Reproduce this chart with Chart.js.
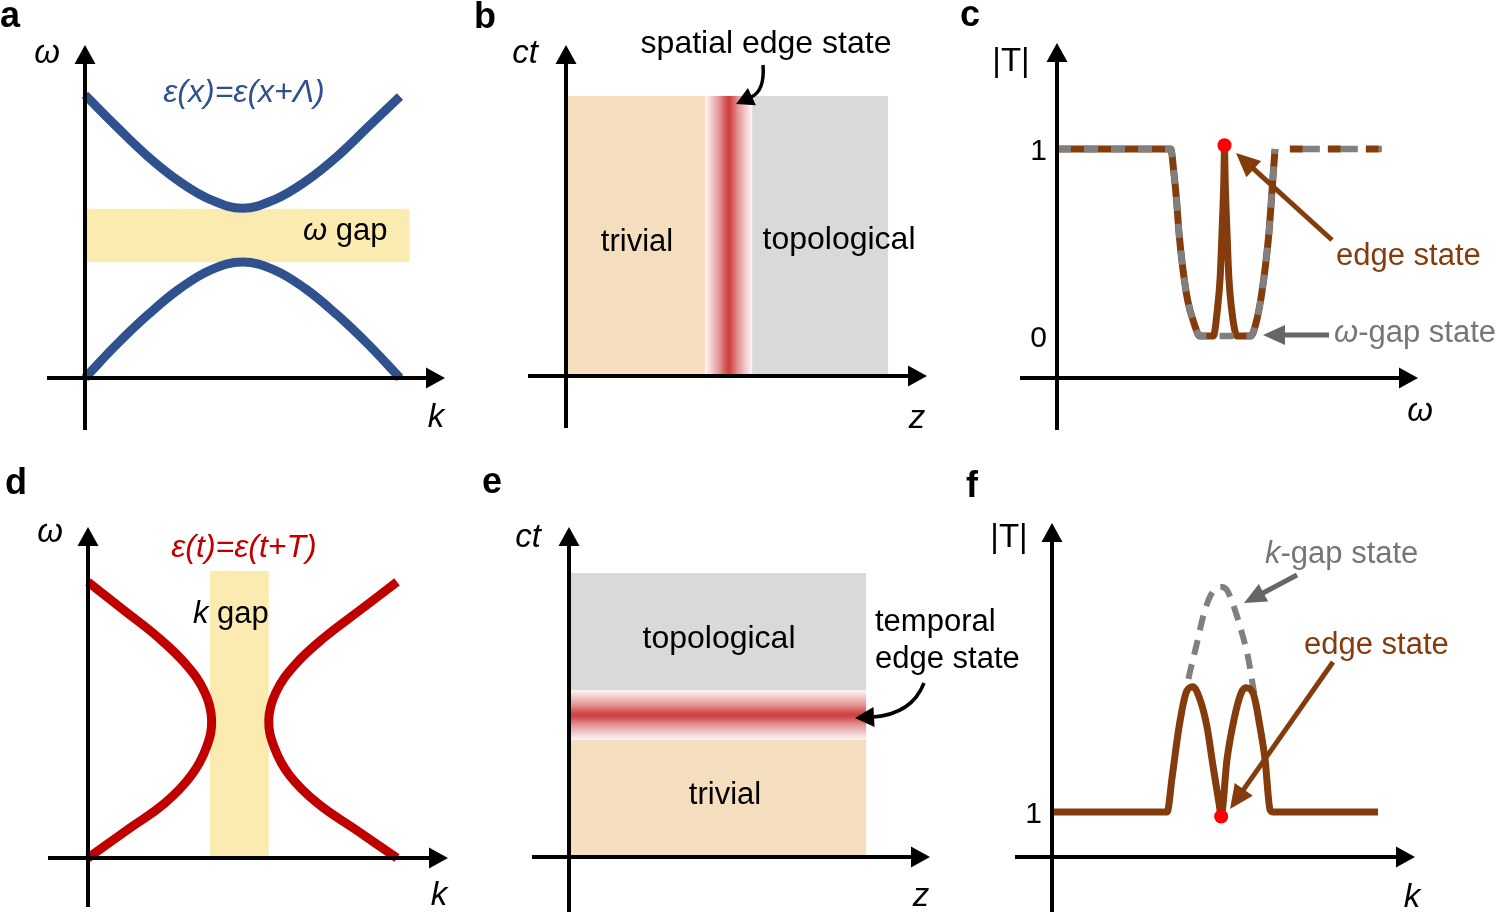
<!DOCTYPE html>
<html>
<head>
<meta charset="utf-8">
<title>Spatial and temporal photonic crystals</title>
<script src="https://cdn.jsdelivr.net/npm/chart.js@4.4.1/dist/chart.umd.min.js"></script>
<style>
  body { margin: 0; background: #fff; }
  #fig { position: relative; width: 1498px; height: 912px; overflow: hidden; }
  #fig canvas { position: absolute; left: 0; top: 0; }
</style>
</head>
<body>
<div id="fig">
  <canvas id="panelA" width="1498" height="912"></canvas>
  <canvas id="panelB" width="1498" height="912"></canvas>
  <canvas id="panelC" width="1498" height="912"></canvas>
  <canvas id="panelD" width="1498" height="912"></canvas>
  <canvas id="panelE" width="1498" height="912"></canvas>
  <canvas id="panelF" width="1498" height="912"></canvas>
</div>
<script>
// ---- values ----

// a: spatial photonic crystal, bands omega(k)
const aK = [0, 0.1, 0.2, 0.3, 0.4, 0.5, 0.6, 0.7, 0.8, 0.9, 1.0];
const aUpper = [0.85, 0.755, 0.665, 0.59, 0.535, 0.51, 0.535, 0.59, 0.665, 0.755, 0.845];
const aLower = [0, 0.10, 0.19, 0.268, 0.325, 0.348, 0.325, 0.268, 0.19, 0.10, 0];
const aGapOmega = [0.348, 0.508];
const aGapK = [0, 1.03];

// d: temporal photonic crystal, bands k(omega)
const dOmega = [1.0, 0.9, 0.8, 0.7, 0.6, 0.5, 0.4, 0.3, 0.2, 0.1, 0];
const dLeftK = [0, 0.113, 0.226, 0.318, 0.378, 0.4, 0.383, 0.335, 0.25, 0.125, 0];
const dRightK = [1.0, 0.883, 0.766, 0.670, 0.608, 0.585, 0.603, 0.652, 0.741, 0.870, 1.0];
const dGapK = [0.395, 0.585];
const dGapOmega = [0, 1.04];

// b: zones along z (trivial | edge | topological), ct extent
const bZoneZ = [0, 0.432, 0.578, 1.0];
const bCt = [0, 1.0];

// e: zones along ct (trivial | edge | topological), z extent
const eZoneCt = [0, 0.412, 0.588, 1.0];
const eZ = [0, 1.0];

// c: |T| vs omega
const cOmega = [0, 3.15, 3.24, 3.31, 3.38, 3.48, 3.62, 3.81, 3.95, 4.33, 4.45, 4.52, 4.57, 4.62, 4.64,
                4.66, 4.71, 4.76, 4.83, 4.95, 4.99, 5.37, 5.5, 5.64, 5.77, 5.87, 5.94, 5.99, 6.04];
const cEdgeT = [1, 1, 0.87, 0.73, 0.55, 0.37, 0.19, 0.06, 0, 0, 0.155, 0.315, 0.55, 0.82, 1.0,
                0.82, 0.55, 0.315, 0.155, 0.01, 0, 0, 0.06, 0.19, 0.37, 0.55, 0.73, 0.87, 1.0];
const cGapOmega = [0, 3.15, 3.24, 3.31, 3.38, 3.48, 3.62, 3.81, 3.95, 5.37, 5.5, 5.64, 5.77, 5.87, 5.94, 5.99, 6.04];
const cGapT = [1, 1, 0.87, 0.73, 0.55, 0.37, 0.19, 0.06, 0, 0, 0.06, 0.19, 0.37, 0.55, 0.73, 0.87, 1.0];
const cTailOmega = [6.45, 9.0];
const cTailT = [1, 1];
const cPeak = [4.64, 1.02];
const cTicks = [0, 1];

// f: |T| vs k
const fK = [0, 3.17, 3.31, 3.50, 3.69, 3.88, 4.08, 4.27, 4.44, 4.60, 4.66,
            4.82, 5.01, 5.21, 5.34, 5.54, 5.73, 5.87, 6.01, 6.09, 8.98];
const fEdgeT = [1, 1, 1.78, 2.89, 3.64, 3.78, 3.49, 2.89, 2.0, 1.2, 0.93,
                2.16, 3.04, 3.64, 3.76, 3.64, 2.89, 2.16, 1.04, 1.0, 1.0];
const fGapK = [0, 3.17, 3.31, 3.50, 3.69, 3.77, 3.97, 4.16, 4.35, 4.55, 4.68,
               4.82, 5.01, 5.21, 5.40, 5.54, 5.73, 5.87, 6.01, 6.09, 8.98];
const fGapT = [1, 1, 1.78, 2.89, 3.64, 4.0, 4.67, 5.33, 5.78, 5.98, 6.0,
               5.93, 5.56, 5.04, 4.44, 3.78, 2.89, 2.16, 1.04, 1.0, 1.0];
const fDip = [4.66, 0.9];
const fTicks = [1];

// ---- styling ----
const FONT = '"Liberation Sans", Arial, Helvetica, sans-serif';
const BLUE = '#2F528F', RED = '#C00000', BROWN = '#843C0C', GREY = '#808080';
const GREYTXT = '#767676', GREYARR = '#666666';
const BEIGE = '#F5DEBD', STONE = '#D9D9D9', SAND = '#FBEBB0';
const glowStops = [[0, '#FDF5F5'], [0.12, '#F3D2D2'], [0.3, '#E39595'], [0.44, '#D45252'],
                   [0.5, '#CF3E3E'], [0.56, '#D45252'], [0.7, '#E39595'], [0.88, '#F3D2D2'], [1, '#FDF5F5']];

const zip = (xs, ys) => xs.map((x, i) => ({ x: x, y: ys[i] }));

function line(xs, ys, color, width, extra) {
  return Object.assign({
    data: zip(xs, ys), showLine: true, borderColor: color, borderWidth: width,
    pointRadius: 0, fill: false, clip: false, tension: 0.4
  }, extra || {});
}

function dot(p, color) {
  return { data: [{ x: p[0], y: p[1] }], pointRadius: 7, pointBackgroundColor: color,
           pointBorderWidth: 0, showLine: false, clip: false, order: 0 };
}

// overlays per canvas: zones, axes, labels, arrows
const overlays = {};

function head(ctx, tx, ty, dx, dy, len, w, color) {
  const L = Math.hypot(dx, dy), ux = dx / L, uy = dy / L;
  const bx = tx - ux * len, by = ty - uy * len;
  ctx.fillStyle = color;
  ctx.beginPath();
  ctx.moveTo(tx, ty);
  ctx.lineTo(bx - uy * w / 2, by + ux * w / 2);
  ctx.lineTo(bx + uy * w / 2, by - ux * w / 2);
  ctx.closePath();
  ctx.fill();
  return [bx + ux, by + uy];
}

function drawText(ctx, t) {
  const size = t.size || 31;
  const segs = t.segs || [{ s: t.s, italic: t.italic }];
  const fontOf = sg => (sg.italic ? 'italic ' : '') + (t.bold ? 'bold ' : '') + size + 'px ' + FONT;
  let total = 0;
  segs.forEach(sg => { ctx.font = fontOf(sg); sg.w = ctx.measureText(sg.s).width; total += sg.w; });
  let x = t.align === 'center' ? t.x - total / 2 : t.align === 'right' ? t.x - total : t.x;
  ctx.textBaseline = 'alphabetic';
  ctx.textAlign = 'left';
  ctx.fillStyle = t.color || '#000';
  segs.forEach(sg => { ctx.font = fontOf(sg); ctx.fillText(sg.s, x, t.y); x += sg.w; });
}

const overlayPlugin = {
  id: 'overlay',
  beforeDatasetsDraw(chart) {
    const o = overlays[chart.canvas.id];
    if (!o || !o.zones) return;
    const ctx = chart.ctx, xs = chart.scales.x, ys = chart.scales.y;
    ctx.save();
    o.zones.forEach(z => {
      const x0 = xs.getPixelForValue(z.x[0]), x1 = xs.getPixelForValue(z.x[1]);
      const y0 = ys.getPixelForValue(z.y[0]), y1 = ys.getPixelForValue(z.y[1]);
      let fill = z.fill;
      if (z.glow) {
        const g = z.glow === 'h' ? ctx.createLinearGradient(x0, 0, x1, 0) : ctx.createLinearGradient(0, y1, 0, y0);
        glowStops.forEach(s => g.addColorStop(s[0], s[1]));
        fill = g;
      }
      ctx.fillStyle = fill;
      ctx.fillRect(Math.min(x0, x1), Math.min(y0, y1), Math.abs(x1 - x0), Math.abs(y1 - y0));
    });
    ctx.restore();
  },
  afterDraw(chart) {
    const o = overlays[chart.canvas.id];
    if (!o) return;
    const ctx = chart.ctx, a = chart.chartArea, ys = chart.scales.y;
    ctx.save();
    // axes with arrow heads
    ctx.strokeStyle = '#000';
    ctx.lineWidth = 4;
    ctx.lineCap = 'butt';
    ctx.beginPath();
    ctx.moveTo(a.left, a.bottom + o.tail[1]);
    ctx.lineTo(a.left, a.top + 16);
    ctx.moveTo(a.left - o.tail[0], a.bottom);
    ctx.lineTo(a.right - 16, a.bottom);
    ctx.stroke();
    head(ctx, a.left, a.top, 0, -1, 19, 21, '#000');
    head(ctx, a.right, a.bottom, 1, 0, 19, 21, '#000');
    // tick labels
    (o.ticks || []).forEach(v => {
      drawText(ctx, { s: String(v), x: a.left - 10, y: ys.getPixelForValue(v) + 11, align: 'right', size: 30 });
    });
    // arrows
    (o.arrows || []).forEach(ar => {
      ctx.strokeStyle = ar.color;
      ctx.lineWidth = ar.lw;
      if (ar.ctrl) {
        ctx.beginPath();
        ctx.moveTo(ar.from[0], ar.from[1]);
        ctx.quadraticCurveTo(ar.ctrl[0], ar.ctrl[1], ar.end[0], ar.end[1]);
        ctx.stroke();
        const dx = ar.tip[0] - ar.end[0], dy = ar.tip[1] - ar.end[1];
        head(ctx, ar.tip[0], ar.tip[1], dx, dy, Math.hypot(dx, dy) + 1, ar.w, ar.color);
      } else {
        const dx = ar.tip[0] - ar.from[0], dy = ar.tip[1] - ar.from[1];
        const base = head(ctx, ar.tip[0], ar.tip[1], dx, dy, ar.len, ar.w, ar.color);
        ctx.beginPath();
        ctx.moveTo(ar.from[0], ar.from[1]);
        ctx.lineTo(base[0], base[1]);
        ctx.stroke();
      }
    });
    (o.texts || []).forEach(t => drawText(ctx, t));
    ctx.restore();
  }
};
Chart.register(overlayPlugin);

function options(area, xr, yr) {
  return {
    responsive: false, animation: false, events: [],
    layout: { padding: { left: area[0], top: area[1], right: 1498 - area[2], bottom: 912 - area[3] } },
    scales: {
      x: { type: 'linear', display: false, min: xr[0], max: xr[1] },
      y: { type: 'linear', display: false, min: yr[0], max: yr[1] }
    },
    plugins: { legend: { display: false }, tooltip: { enabled: false } }
  };
}

// ---- a ----
overlays.panelA = {
  tail: [38, 52],
  zones: [{ x: aGapK, y: aGapOmega, fill: SAND }],
  texts: [
    { s: 'a', x: 0, y: 27, bold: true, size: 36 },
    { s: 'ω', x: 47, y: 63, italic: true, align: 'center', size: 33 },
    { s: 'k', x: 436, y: 427, italic: true, align: 'center', size: 33 },
    { s: 'ε(x)=ε(x+Λ)', x: 244, y: 102, italic: true, align: 'center', color: BLUE, size: 32 },
    { segs: [{ s: 'ω', italic: true }, { s: ' gap' }], x: 303, y: 240 }
  ]
};
new Chart(document.getElementById('panelA'), {
  type: 'scatter',
  data: { datasets: [line(aK, aUpper, BLUE, 9), line(aK, aLower, BLUE, 9)] },
  options: options([85, 45, 445, 378], [0, 1.143], [0, 1])
});

// ---- d ----
overlays.panelD = {
  tail: [40, 49],
  zones: [{ x: dGapK, y: dGapOmega, fill: SAND }],
  texts: [
    { s: 'd', x: 5, y: 494, bold: true, size: 36 },
    { s: 'ω', x: 50, y: 542, italic: true, align: 'center', size: 33 },
    { s: 'k', x: 439, y: 905, italic: true, align: 'center', size: 33 },
    { s: 'ε(t)=ε(t+T)', x: 244, y: 557, italic: true, align: 'center', color: RED, size: 32 },
    { segs: [{ s: 'k', italic: true }, { s: ' gap' }], x: 193, y: 623 }
  ]
};
new Chart(document.getElementById('panelD'), {
  type: 'scatter',
  data: { datasets: [line(dLeftK, dOmega, RED, 9), line(dRightK, dOmega, RED, 9)] },
  options: options([88, 527, 448, 858], [0, 1.165], [0, 1.199])
});

// ---- b ----
overlays.panelB = {
  tail: [38, 52],
  zones: [
    { x: [bZoneZ[0], bZoneZ[1]], y: bCt, fill: BEIGE },
    { x: [bZoneZ[1], bZoneZ[2]], y: bCt, glow: 'h' },
    { x: [bZoneZ[2], bZoneZ[3]], y: bCt, fill: STONE }
  ],
  arrows: [{ from: [763, 65], ctrl: [765, 91], end: [751, 97], tip: [736, 104], w: 19, lw: 3.5, color: '#000' }],
  texts: [
    { s: 'b', x: 474, y: 28, bold: true, size: 36 },
    { s: 'ct', x: 525, y: 63, italic: true, align: 'center', size: 33 },
    { s: 'z', x: 917, y: 428, italic: true, align: 'center', size: 33 },
    { s: 'spatial edge state', x: 766, y: 53, align: 'center', size: 32 },
    { s: 'trivial', x: 637, y: 251, align: 'center' },
    { s: 'topological', x: 839, y: 249, align: 'center', size: 32 }
  ]
};
new Chart(document.getElementById('panelB'), {
  type: 'scatter',
  data: { datasets: [] },
  options: options([566, 45, 927, 376], [0, 1.121], [0, 1.182])
});

// ---- e ----
overlays.panelE = {
  tail: [37, 60],
  zones: [
    { x: eZ, y: [eZoneCt[0], eZoneCt[1]], fill: BEIGE },
    { x: eZ, y: [eZoneCt[1], eZoneCt[2]], glow: 'v' },
    { x: eZ, y: [eZoneCt[2], eZoneCt[3]], fill: STONE }
  ],
  arrows: [{ from: [924, 683], ctrl: [912, 714], end: [873, 717], tip: [855, 718], w: 20, lw: 3.5, color: '#000' }],
  texts: [
    { s: 'e', x: 482, y: 493, bold: true, size: 36 },
    { s: 'ct', x: 528, y: 547, italic: true, align: 'center', size: 33 },
    { s: 'z', x: 921, y: 906, italic: true, align: 'center', size: 33 },
    { s: 'topological', x: 719, y: 648, align: 'center', size: 32 },
    { s: 'trivial', x: 725, y: 804, align: 'center' },
    { s: 'temporal', x: 875, y: 631 },
    { s: 'edge state', x: 875, y: 668 }
  ]
};
new Chart(document.getElementById('panelE'), {
  type: 'scatter',
  data: { datasets: [] },
  options: options([569, 527, 930, 857], [0, 1.215], [0, 1.162])
});

// ---- c ----
overlays.panelC = {
  tail: [37, 52],
  ticks: cTicks,
  arrows: [
    { from: [1332, 240], tip: [1236, 153], len: 24, w: 22, lw: 5, color: BROWN },
    { from: [1329, 335], tip: [1263, 335], len: 22, w: 20, lw: 5, color: GREYARR }
  ],
  texts: [
    { s: 'c', x: 960, y: 26, bold: true, size: 36 },
    { s: '|T|', x: 1011, y: 71, align: 'center', size: 33 },
    { s: 'ω', x: 1420, y: 421, italic: true, align: 'center', size: 33 },
    { s: 'edge state', x: 1336, y: 265, color: BROWN },
    { segs: [{ s: 'ω', italic: true }, { s: '-gap state' }], x: 1334, y: 342, color: GREYTXT }
  ]
};
new Chart(document.getElementById('panelC'), {
  type: 'scatter',
  data: { datasets: [
    dot(cPeak, '#FF0000'),
    line(cGapOmega, cGapT, GREY, 6.5, { borderDash: [14, 13], cubicInterpolationMode: 'monotone', order: 1 }),
    line(cTailOmega, cTailT, GREY, 6.5, { borderDash: [17, 21], borderDashOffset: 25, tension: 0, order: 1 }),
    line(cOmega, cEdgeT, BROWN, 7, { cubicInterpolationMode: 'monotone', order: 2 }),
    line(cTailOmega, cTailT, BROWN, 7, { borderDash: [13, 25], tension: 0, order: 2 })
  ] },
  options: options([1057, 43, 1418, 378], [0, 10], [-0.2246, 1.567])
});

// ---- f ----
overlays.panelF = {
  tail: [37, 60],
  ticks: fTicks,
  arrows: [
    { from: [1297, 575], tip: [1244, 603], len: 22, w: 20, lw: 5, color: GREYARR },
    { from: [1333, 662], tip: [1230, 809], len: 24, w: 22, lw: 5, color: BROWN }
  ],
  texts: [
    { s: 'f', x: 966, y: 497, bold: true, size: 36 },
    { s: '|T|', x: 1009, y: 547, align: 'center', size: 33 },
    { s: 'k', x: 1412, y: 907, italic: true, align: 'center', size: 33 },
    { segs: [{ s: 'k', italic: true }, { s: '-gap state' }], x: 1265, y: 563, color: GREYTXT },
    { s: 'edge state', x: 1304, y: 654, color: BROWN }
  ]
};
new Chart(document.getElementById('panelF'), {
  type: 'scatter',
  data: { datasets: [
    dot(fDip, '#FF0000'),
    line(fK, fEdgeT, BROWN, 7, { cubicInterpolationMode: 'monotone', order: 1 }),
    line(fGapK, fGapT, GREY, 6, { borderDash: [15, 10], cubicInterpolationMode: 'monotone', order: 2 })
  ] },
  options: options([1052, 523, 1415, 857], [0, 10], [0, 7.42])
});
</script>
</body>
</html>
